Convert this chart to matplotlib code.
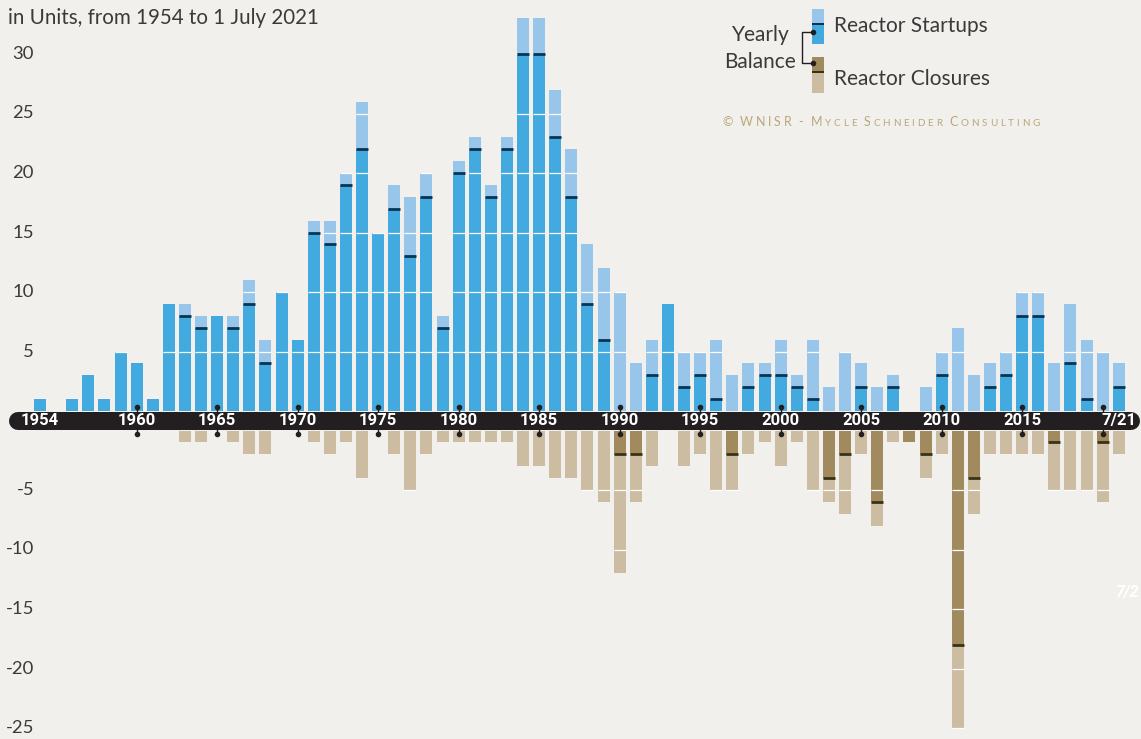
import matplotlib
matplotlib.use("Agg")
import matplotlib.pyplot as plt
from matplotlib.patches import Rectangle
from matplotlib.lines import Line2D

# ---------------- data ----------------
years = list(range(1954, 2022))
startups = [1, 0, 1, 3, 1, 5, 4, 1, 9, 9,
            8, 8, 8, 11, 6, 10, 6, 16, 16, 20,
            26, 15, 19, 18, 20, 8, 21, 23, 19, 23,
            33, 33, 27, 22, 14, 12, 10, 4, 6, 9,
            5, 5, 6, 3, 4, 4, 6, 3, 6, 2,
            5, 4, 2, 3, 0, 2, 5, 7, 3, 4,
            5, 10, 10, 4, 9, 6, 5, 4]
closures = [0, 0, 0, 0, 0, 0, 0, 0, 0, 1,
            1, 0, 1, 2, 2, 0, 0, 1, 2, 1,
            4, 0, 2, 5, 2, 1, 1, 1, 1, 1,
            3, 3, 4, 4, 5, 6, 12, 6, 3, 0,
            3, 2, 5, 5, 2, 1, 3, 1, 5, 6,
            7, 2, 8, 1, 1, 4, 2, 25, 7, 2,
            2, 2, 2, 5, 5, 5, 6, 2]
band_label_years = [1954, 1960, 1965, 1970, 1975, 1980, 1985, 1990, 1995,
                    2000, 2005, 2010, 2015, 2021]
band_labels = ["1954", "1960", "1965", "1970", "1975", "1980", "1985", "1990",
               "1995", "2000", "2005", "2010", "2015", "7/21"]
tick_years = [1960, 1965, 1970, 1975, 1980, 1985, 1990, 1995, 2000, 2005,
              2010, 2015, 2020]
pos_ticks = [5, 10, 15, 20, 25, 30]
neg_ticks = [5, 10, 15, 20, 25]
title = "in Units, from 1954 to 1 July 2021"

# ---------------- style ----------------
BG = "#F2F0EC"
LIGHT_BLUE = "#98C6EA"
MID_BLUE = "#43AADF"
NAVY = "#083454"
BEIGE = "#CBBCA2"
BROWN = "#A08A5E"
BROWN_LINE = "#3A3214"
BAND = "#231F20"
TXT = "#3A3A3A"
COPY = "#B9A77D"
FONT = "Lato"

W, H = 1141, 739
X0, SX = 40.0, 16.1        # px of first year, px per year
Z, SY = 411.0, 11.9        # px of zero line, px per unit
GAP = 19.5 / SY            # offset of the closures' baseline (band height)
BW = 12.0 / SX             # bar width in years

fig = plt.figure(figsize=(W / 100, H / 100), dpi=100, facecolor=BG)
ax = fig.add_axes([0, 0, 1, 1])
ax.set_facecolor(BG)
ax.set_xlim(1954 - X0 / SX, 1954 + (W - X0) / SX)
ax.set_ylim((Z - H) / SY, Z / SY)
ax.axis("off")


def fx(p):
    return p / W


def fy(p):
    return 1 - p / H


balance = [s - c for s, c in zip(startups, closures)]
pos_part = [min(s, max(b, 0)) for s, b in zip(startups, balance)]
neg_part = [min(c, max(-b, 0)) for c, b in zip(closures, balance)]

# startups
ax.bar(years, startups, width=BW, color=LIGHT_BLUE, zorder=2)
ax.bar(years, pos_part, width=BW, color=MID_BLUE, zorder=3)
# closures (below band)
ax.bar(years, [-c for c in closures], bottom=-GAP, width=BW, color=BEIGE, zorder=2)
ax.bar(years, [-n for n in neg_part], bottom=-GAP, width=BW, color=BROWN, zorder=3)

for yr, s, c, b in zip(years, startups, closures, balance):
    x0, x1 = yr - BW / 2, yr + BW / 2
    for k in pos_ticks:
        if k <= s:
            ax.hlines(k, x0, x1, color="white", lw=0.9, zorder=4)
    for k in neg_ticks:
        if k <= c:
            ax.hlines(-GAP - k, x0, x1, color="white", lw=0.9, zorder=4)
    if 0 < b < s:
        ax.hlines(b, x0, x1, color=NAVY, lw=2.0, zorder=5)
    if 0 < -b < c:
        ax.hlines(-GAP + b, x0, x1, color=BROWN_LINE, lw=2.0, zorder=5)

# ticks with dots
for t in tick_years:
    ax.plot([t, t], [0.33, -GAP - 0.33], color=BAND, lw=1.0, zorder=6)
    ax.plot([t, t], [0.33, -GAP - 0.33], "o", ms=3, color=BAND, zorder=6)

# black band
bx0 = 1954 + (18 - X0) / SX
bx1 = 1954 + (1131 - X0) / SX
ax.plot([bx0, bx1], [-GAP / 2, -GAP / 2], color=BAND, lw=18 * 0.72,
        solid_capstyle="round", zorder=7)
for yr, lab in zip(band_label_years, band_labels):
    ax.text(yr, -GAP / 2, lab, ha="center", va="center", color="white",
            fontsize=12, fontweight="bold", family="Roboto", zorder=8)

# y labels
ytr = ax.get_yaxis_transform()
for v in pos_ticks:
    ax.text(34 / W, v, str(v), transform=ytr, ha="right", va="center",
            fontsize=13.3, color=TXT, family=FONT)
for v in neg_ticks:
    ax.text(34 / W, -GAP - v, "-" + str(v), transform=ytr, ha="right", va="center",
            fontsize=13.3, color=TXT, family=FONT)

# title
fig.text(fx(8), fy(24), title, ha="left", va="baseline", fontsize=14.8,
         color=TXT, family=FONT)

# legend
def frect(x, y, w, h, color):
    fig.add_artist(Rectangle((fx(x), fy(y + h)), w / W, h / H, color=color,
                             transform=fig.transFigure, lw=0))

frect(812, 9, 12, 15.5, LIGHT_BLUE)
frect(812, 24.5, 12, 19.5, MID_BLUE)
frect(812, 23.5, 12, 1.8, NAVY)
frect(812, 57, 12, 15, BROWN)
frect(812, 72, 12, 21, BEIGE)
frect(812, 71, 12, 1.8, BROWN_LINE)
fig.add_artist(Line2D([fx(812.7), fx(802), fx(802), fx(812.7)],
                      [fy(32.3), fy(32.3), fy(63.3), fy(63.3)],
                      color=BAND, lw=1.0, transform=fig.transFigure))
fig.add_artist(Line2D([fx(812.7), fx(812.7)], [fy(32.3), fy(63.3)], ls="none",
                      marker="o", ms=3, color=BAND, transform=fig.transFigure))
fig.text(fx(760.5), fy(41), "Yearly", ha="center", va="baseline", fontsize=15,
         color=TXT, family=FONT)
fig.text(fx(760.5), fy(68), "Balance", ha="center", va="baseline", fontsize=15,
         color=TXT, family=FONT)
fig.text(fx(834), fy(32), "Reactor Startups", ha="left", va="baseline",
         fontsize=15, color=TXT, family=FONT)
fig.text(fx(834), fy(85), "Reactor Closures", ha="left", va="baseline",
         fontsize=15, color=TXT, family=FONT)

# copyright in small caps with tracking
renderer = fig.canvas.get_renderer()
pieces = [("© WNISR - M", 9.0), ("YCLE", 7.1), (" S", 9.0), ("CHNEIDER", 7.1),
          (" C", 9.0), ("ONSULTING", 7.1)]
x = 722.0
track = 2.8
for txt, size in pieces:
    for ch in txt:
        if ch == " ":
            x += 4.5
            continue
        t = fig.text(fx(x), fy(126), ch, ha="left", va="baseline", fontsize=size,
                     color=COPY, family=FONT)
        x += t.get_window_extent(renderer).width + track

# faint stray label (visible part only, as in the reference)
fig.text(fx(1139), fy(593), "7/2", ha="right", va="center", fontsize=11.5,
         fontweight="bold", color="white", family="Roboto", style="italic")

fig.savefig("out.png", dpi=100, facecolor=BG)
